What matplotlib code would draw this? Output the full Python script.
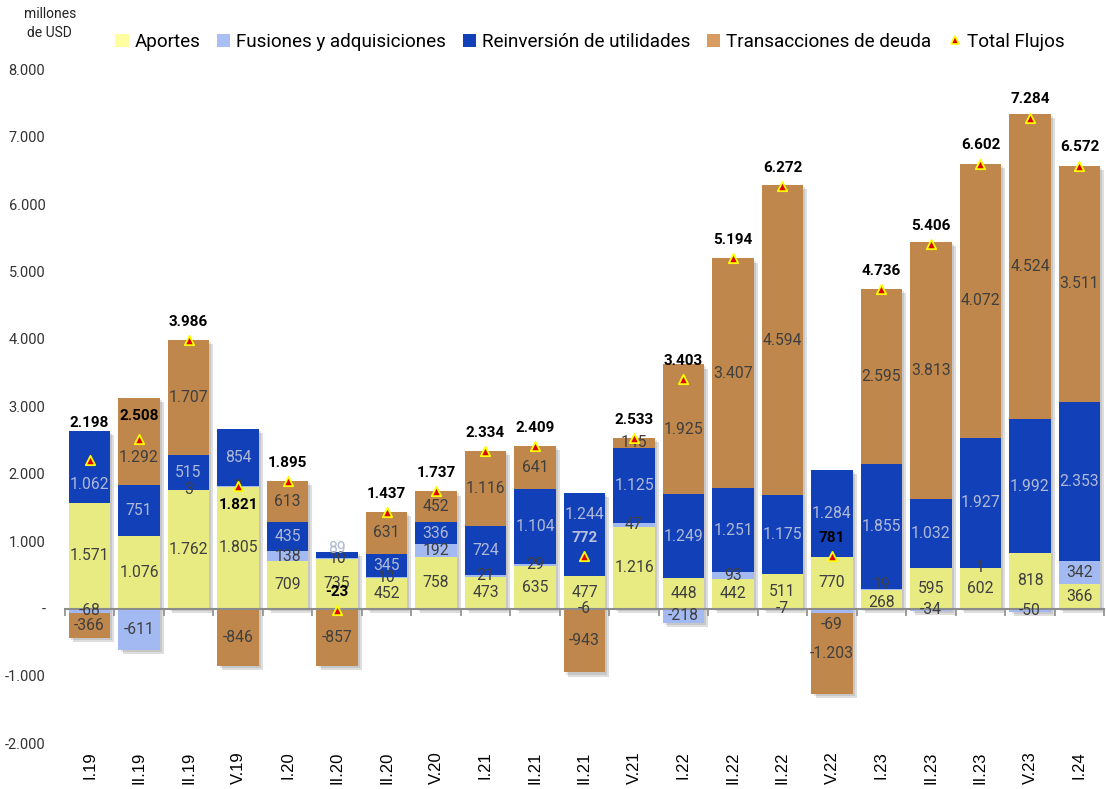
import numpy as np
import matplotlib
matplotlib.use("Agg")
import matplotlib.pyplot as plt
import matplotlib.patheffects as pe
from matplotlib.patches import Patch
from matplotlib.lines import Line2D
from matplotlib.ticker import FuncFormatter, FixedLocator

plt.rcParams["font.family"] = ["Roboto", "DejaVu Sans"]

# datos (millones de USD)
trimestres = ["I.19", "II.19", "II.19", "V.19", "I.20", "II.20", "II.20", "V.20",
              "I.21", "II.21", "II.21", "V.21", "I.22", "II.22", "II.22", "V.22",
              "I.23", "II.23", "II.23", "V.23", "I.24"]
aportes = [1571, 1076, 1762, 1805, 709, 735, 452, 758, 473, 635, 477, 1216,
           448, 442, 511, 770, 268, 595, 602, 818, 366]
fusiones = [-68, -611, 3, 8, 138, 10, 10, 192, 21, 29, -6, 47,
            -218, 93, -7, -69, 19, -34, 1, -50, 342]
reinversion = [1062, 751, 515, 854, 435, 89, 345, 336, 724, 1104, 1244, 1125,
               1249, 1251, 1175, 1284, 1855, 1032, 1927, 1992, 2353]
deuda = [-366, 1292, 1707, -846, 613, -857, 631, 452, 1116, 641, -943, 145,
         1925, 3407, 4594, -1203, 2595, 3813, 4072, 4524, 3511]
total = [2198, 2508, 3986, 1821, 1895, -23, 1437, 1737, 2334, 2409, 772, 2533,
         3403, 5194, 6272, 781, 4736, 5406, 6602, 7284, 6572]

nombres = ["Aportes", "Fusiones y adquisiciones", "Reinversión de utilidades",
           "Transacciones de deuda"]
colores = ["#E8EA82", "#A2B9F2", "#1140B8", "#BF874B"]
colores_leyenda = ["#FFFFA0", "#A9BEF2", "#1140B8", "#D89C60"]
col_etiq = ["#3F3F3F", "#3F3F3F", "#B0B9D6", "#3F3F3F"]


def fmt(v):
    return f"{int(v):,}".replace(",", ".")


fig = plt.figure(figsize=(11.07, 7.89), dpi=100)
ax = fig.add_axes([0.0585, 0.0579, 0.939, 0.8543])

x = np.arange(len(trimestres))
ancho = 0.83
series = [aportes, fusiones, reinversion, deuda]

# sombra suave de cada barra completa
arr = np.array(series)
sup = np.where(arr > 0, arr, 0).sum(axis=0)
inf = np.where(arr < 0, arr, 0).sum(axis=0)
ax.bar(x, sup - inf, bottom=inf, width=ancho, color="white", zorder=1,
       path_effects=[pe.SimplePatchShadow(offset=(3, -3), shadow_rgbFace="black", alpha=0.13),
                     pe.SimplePatchShadow(offset=(1.5, -1.5), shadow_rgbFace="black", alpha=0.10),
                     pe.Normal()])

# desplazamientos (puntos) de algunas etiquetas que se movieron en el original
desp_seg = {(2, 0): -13, (3, 1): -11, (2, 10): 14, (1, 15): -10, (2, 5): 5,
            (1, 16): 4, (0, 16): -2}

base_pos = np.zeros(len(x))
base_neg = np.zeros(len(x))
for k, (vals, color, ce) in enumerate(zip(series, colores, col_etiq)):
    v = np.array(vals, dtype=float)
    bottom = np.where(v >= 0, base_pos, base_neg)
    ax.bar(x, v, bottom=bottom, width=ancho, color=color, zorder=2)
    for i, (xi, b, vi) in enumerate(zip(x, bottom, v)):
        ax.annotate(fmt(vi), (xi, b + vi / 2), xytext=(0, desp_seg.get((k, i), 0)),
                    textcoords="offset points", ha="center", va="center",
                    fontsize=11.3, color=ce, zorder=4)
    base_pos = np.where(v >= 0, base_pos + v, base_pos)
    base_neg = np.where(v < 0, base_neg + v, base_neg)

# total flujos
ax.scatter(x, total, marker="^", s=45, color="#E00000", edgecolors="#FFFF00",
           linewidths=1.3, zorder=5)
desp = {0: 27, 1: 17, 3: -14}
col_total = {10: "#B8C0DA"}
for xi, t in zip(x, total):
    i = int(xi)
    ax.annotate(fmt(t), (xi, t), xytext=(0, desp.get(i, 13)), textcoords="offset points",
                ha="center", va="center", fontsize=11, fontweight="bold",
                color=col_total.get(i, "black"), zorder=6)

ax.set_xlim(-0.5, len(x) - 0.5)
ax.set_ylim(-2000, 8000)
ax.set_yticks(np.arange(-2000, 8001, 1000))
ax.yaxis.set_major_formatter(FuncFormatter(lambda v, _: "-" if v == 0 else fmt(v)))
ax.tick_params(axis="y", length=0, pad=14, labelsize=10.5, labelcolor="#333333")

for s in ["top", "right", "left"]:
    ax.spines[s].set_visible(False)
ax.spines["bottom"].set_position(("data", 0))
ax.spines["bottom"].set_color("#8C8C8C")
ax.spines["bottom"].set_linewidth(1.5)
ax.spines["bottom"].set_zorder(3)

ax.set_xticks(x)
ax.set_xticklabels(trimestres, rotation=90, va="top", ha="center",
                   fontsize=12, family=["Liberation Sans", "DejaVu Sans"])
ax.tick_params(axis="x", which="major", length=0, pad=103)
ax.xaxis.set_minor_locator(FixedLocator(np.arange(-0.5, len(x), 1.0)))
ax.tick_params(axis="x", which="minor", length=5, width=1.2, color="#8C8C8C")

fig.text(0.045, 0.97, "millones\nde USD", ha="center", va="center", fontsize=10,
         color="#222222", linespacing=1.5)

handles = [Patch(facecolor=c, edgecolor="none") for c in colores_leyenda]
handles.append(Line2D([], [], marker="^", linestyle="none", markersize=6,
                      markerfacecolor="#E00000", markeredgecolor="#FFFF00", markeredgewidth=1.2))
fig.legend(handles, nombres + ["Total Flujos"], loc="center", bbox_to_anchor=(0.533, 0.947),
           ncol=5, frameon=False, fontsize=13.6, handlelength=0.7, handleheight=0.7,
           handletextpad=0.3, columnspacing=0.9)

fig.savefig("out.png", dpi=100)
